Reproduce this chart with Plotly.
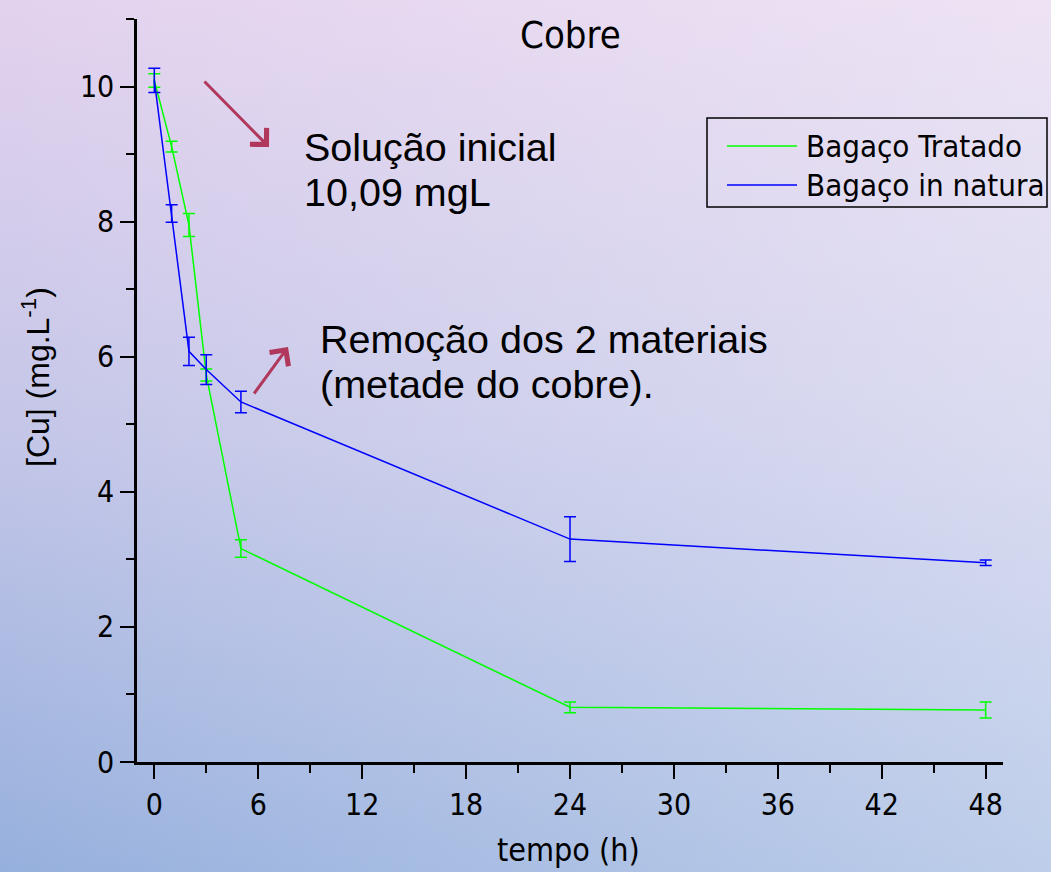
import base64
import plotly.graph_objects as go

# ---- data ----
tempo = [0, 1, 2, 3, 5, 24, 48]
tratado = [10.09, 9.11, 7.95, 5.73, 3.16, 0.81, 0.77]
tratado_err = [0.10, 0.08, 0.17, 0.09, 0.13, 0.08, 0.12]
natura = [10.09, 8.12, 6.08, 5.81, 5.33, 3.30, 2.95]
natura_err = [0.18, 0.13, 0.21, 0.22, 0.16, 0.33, 0.04]
series_names = ["Bagaço Tratado", "Bagaço in natura"]
x_ticks = [0, 6, 12, 18, 24, 30, 36, 42, 48]
y_ticks = [0, 2, 4, 6, 8, 10]
note1 = ["Solução inicial", "10,09 mgL"]
note2 = ["Remoção dos 2 materiais", "(metade do cobre)."]

NARROW = "Liberation Sans Narrow, Arial Narrow, DejaVu Sans Condensed, sans-serif"
SANS = "Liberation Sans, Arial, sans-serif"
GREEN = "#00ff00"
BLUE = "#0000ff"
ARROW = "#b0385c"

W, H = 1051, 872
ML, MR, MT, MB = 137, 48, 19, 110
PW, PH = W - ML - MR, H - MT - MB


def px(xp):
    return (xp - ML) / PW


def py(yp):
    return (H - MB - yp) / PH


fig = go.Figure()
fig.add_trace(go.Scatter(
    x=tempo, y=tratado, mode="lines", name=series_names[0],
    line=dict(color=GREEN, width=1.5),
    error_y=dict(type="data", array=tratado_err, visible=True, color=GREEN, thickness=1.5, width=6),
    showlegend=False,
))
fig.add_trace(go.Scatter(
    x=tempo, y=natura, mode="lines", name=series_names[1],
    line=dict(color=BLUE, width=1.5),
    error_y=dict(type="data", array=natura_err, visible=True, color=BLUE, thickness=1.5, width=6),
    showlegend=False,
))

# background gradient
svg = (
    f'<svg xmlns="http://www.w3.org/2000/svg" width="{W}" height="{H}" viewBox="0 0 {W} {H}" preserveAspectRatio="none">'
    '<defs>'
    '<linearGradient id="v" x1="0" y1="0" x2="0" y2="1">'
    '<stop offset="0" stop-color="#e3d2ee"/><stop offset="0.5" stop-color="#c4c6e8"/><stop offset="1" stop-color="#96b0dd"/>'
    '</linearGradient>'
    '<linearGradient id="h" x1="0" y1="0" x2="1" y2="0">'
    '<stop offset="0" stop-color="#ffffff" stop-opacity="0"/><stop offset="1" stop-color="#ffffff" stop-opacity="0.38"/>'
    '</linearGradient>'
    '</defs>'
    f'<rect width="{W}" height="{H}" fill="url(#v)"/>'
    f'<rect width="{W}" height="{H}" fill="url(#h)"/>'
    '</svg>'
)
src = "data:image/svg+xml;base64," + base64.b64encode(svg.encode()).decode()
fig.add_layout_image(dict(
    source=src, xref="paper", yref="paper",
    x=px(0), y=py(0), sizex=W / PW, sizey=H / PH,
    xanchor="left", yanchor="top", sizing="stretch", layer="below",
))

# custom legend
fig.add_shape(type="rect", xref="paper", yref="paper",
              x0=px(707), x1=px(1047), y0=py(207), y1=py(118),
              line=dict(color="black", width=1.5), fillcolor="rgba(0,0,0,0)")
for i, (name, col) in enumerate(zip(series_names, [GREEN, BLUE])):
    yy = py(146 + i * 39)
    fig.add_shape(type="line", xref="paper", yref="paper",
                  x0=px(727), x1=px(797), y0=yy, y1=yy, line=dict(color=col, width=1.5))
    fig.add_annotation(xref="paper", yref="paper", x=px(804), y=yy, text=name,
                       showarrow=False, xanchor="left", yanchor="middle",
                       font=dict(family=NARROW, size=31, color="black"))

# title and axis titles
fig.add_annotation(xref="paper", yref="paper", x=px(570), y=py(35), text="Cobre",
                   showarrow=False, xanchor="center", yanchor="middle",
                   font=dict(family=NARROW, size=38, color="black"))
fig.add_annotation(xref="paper", yref="paper", x=px(568), y=py(850), text="tempo (h)",
                   showarrow=False, xanchor="center", yanchor="middle",
                   font=dict(family=NARROW, size=32, color="black"))
fig.add_annotation(xref="paper", yref="paper", x=px(36), y=py(377),
                   text="[Cu] (mg.L<sup>-1</sup>)", textangle=-90,
                   showarrow=False, xanchor="center", yanchor="middle",
                   font=dict(family=SANS, size=32, color="black"))

# text annotations (one per line to control spacing)
for txt, yp in zip(note1, [147, 192]):
    fig.add_annotation(xref="paper", yref="paper", x=px(302), y=py(yp),
                       text=txt, showarrow=False, xanchor="left", yanchor="middle",
                       font=dict(family=SANS, size=39.5, color="black"))
for txt, yp in zip(note2, [339, 384]):
    fig.add_annotation(xref="paper", yref="paper", x=px(318), y=py(yp),
                       text=txt, showarrow=False, xanchor="left", yanchor="middle",
                       font=dict(family=SANS, size=39.5, color="black"))

# arrows
fig.add_annotation(xref="paper", yref="paper", x=px(269), y=py(147), ax=-66, ay=-67,
                   text="", showarrow=True, arrowhead=4, arrowsize=1.5, arrowwidth=3,
                   arrowcolor=ARROW)
fig.add_annotation(xref="paper", yref="paper", x=px(288), y=py(347), ax=-35, ay=48,
                   text="", showarrow=True, arrowhead=4, arrowsize=1.5, arrowwidth=3,
                   arrowcolor=ARROW)

fig.update_xaxes(
    range=[-1, 49], tickmode="array", tickvals=x_ticks, ticktext=[str(v) for v in x_ticks],
    showgrid=False, zeroline=False, showline=True, linecolor="black", linewidth=2.5,
    ticks="outside", ticklen=14, tickwidth=2, tickcolor="black",
    minor=dict(dtick=3, tick0=0, ticks="outside", ticklen=8, tickwidth=2, tickcolor="black"),
    tickfont=dict(family=NARROW, size=30, color="black"),
)
fig.update_yaxes(
    range=[0, 11], tickmode="array", tickvals=y_ticks, ticktext=[str(v) for v in y_ticks],
    showgrid=False, zeroline=False, showline=True, linecolor="black", linewidth=2.5,
    ticks="outside", ticklen=14, tickwidth=2, tickcolor="black",
    minor=dict(dtick=1, tick0=0, ticks="outside", ticklen=8, tickwidth=2, tickcolor="black"),
    tickfont=dict(family=NARROW, size=30, color="black"),
)

fig.update_layout(
    width=W, height=H,
    margin=dict(l=ML, r=MR, t=MT, b=MB),
    paper_bgcolor="#c8c8e8", plot_bgcolor="rgba(0,0,0,0)",
    showlegend=False,
)

fig.write_html("out.html")
